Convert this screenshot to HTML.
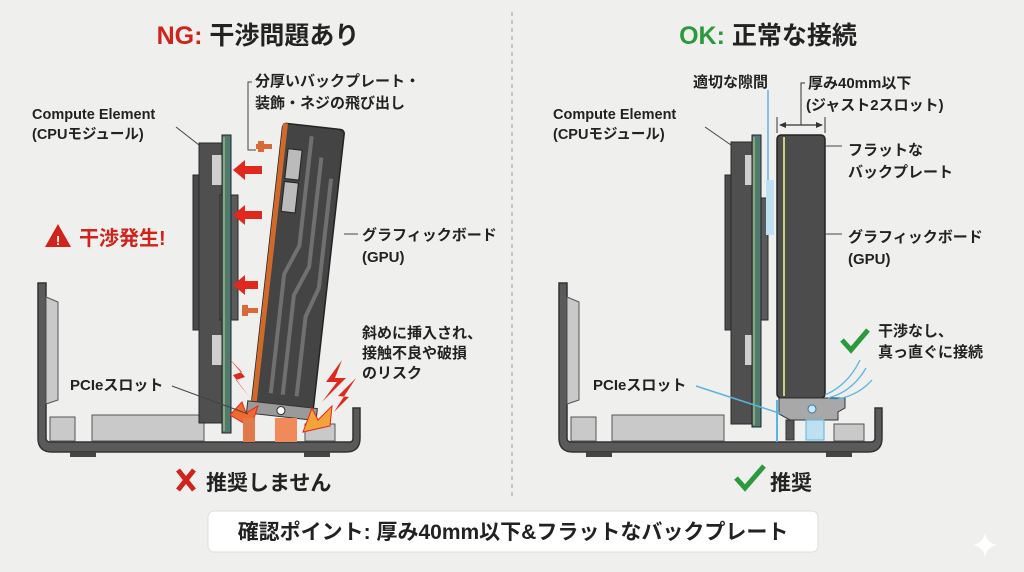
<!DOCTYPE html>
<html><head><meta charset="utf-8"><style>
html,body{margin:0;padding:0;background:#efefee;}
svg{display:block;}
text{font-family:"Liberation Sans","Noto Sans CJK JP",sans-serif;font-weight:bold;fill:#222;}
</style></head><body>
<svg width="1024" height="572" viewBox="0 0 1024 572" xmlns="http://www.w3.org/2000/svg">
<rect width="1024" height="572" fill="#efefee"/>
<line x1="512" y1="12" x2="512" y2="500" stroke="#aaa" stroke-width="1.2" stroke-dasharray="4 4"/>

<text x="258" y="44" font-size="25" text-anchor="middle"><tspan fill="#d0231b">NG:</tspan> 干渉問題あり</text>
<text x="768" y="44" font-size="25" text-anchor="middle"><tspan fill="#2b9a3c">OK:</tspan> 正常な接続</text>

<g>
 <path d="M38 283 L46 283 L46 438 Q46 442 50 442 L350 442 Q353 442 353 438 L353 408 L360 408 L360 438 Q360 452 346 452 L52 452 Q38 452 38 438 Z" fill="#5a5a5a" stroke="#333" stroke-width="1.5"/>
 <path d="M46 297 L58 302 L58 400 L46 404 Z" fill="#c9c9c9" stroke="#555"/>
 <rect x="50" y="417" width="25" height="24" fill="#c9c9c9" stroke="#555"/>
 <rect x="92" y="415" width="112" height="26" fill="#c9c9c9" stroke="#555"/>
 <rect x="305" y="424" width="30" height="17" fill="#c9c9c9" stroke="#555"/>
 <rect x="70" y="452" width="26" height="5" fill="#444"/>
 <rect x="304" y="452" width="26" height="5" fill="#444"/>
 <rect x="193" y="175" width="12" height="155" fill="#4a4a4a" stroke="#2a2a2a"/>
 <rect x="199" y="143" width="26" height="280" fill="#4f4f4f" stroke="#2a2a2a"/>
 <rect x="212" y="155" width="10" height="30" fill="#cfcfcf"/>
 <rect x="212" y="335" width="10" height="30" fill="#cfcfcf"/>
 <rect x="220" y="195" width="18" height="125" fill="#5a5a5a" stroke="#2a2a2a"/>
 <rect x="222" y="135" width="9" height="298" fill="#4f7a6e" stroke="#223"/>
 <line x1="224" y1="137" x2="224" y2="431" stroke="#c9d27a" stroke-width="1"/>
 <g transform="translate(283,123) rotate(6.4)">
  <rect x="0" y="0" width="62" height="282" rx="4" fill="#444" stroke="#222" stroke-width="1.5"/>
  <rect x="0" y="0" width="5" height="282" fill="#d06a2a"/>
  <rect x="8" y="25" width="14" height="30" fill="#bbb" stroke="#222"/>
  <rect x="8" y="58" width="14" height="30" fill="#bbb" stroke="#222"/>
  <path d="M30 10 L30 120 L18 150 L18 270 M42 30 L42 140 L30 170 L30 270 M54 50 L54 160 L44 190 L44 270" stroke="#707070" stroke-width="4" fill="none"/>
  <rect x="-4" y="280" width="70" height="12" fill="#9a9a9a" stroke="#333"/>
  <circle cx="30" cy="286" r="4" fill="#fff" stroke="#333"/>
 </g>
 <g fill="#e0281e">
  <path d="M262 166 L245 166 L245 160 L233 170 L245 180 L245 174 L262 174 Z"/>
  <path d="M262 211 L245 211 L245 205 L233 215 L245 225 L245 219 L262 219 Z"/>
  <path d="M258 281 L245 281 L245 275 L233 285 L245 295 L245 289 L258 289 Z"/>
 </g>
 <rect x="256" y="144" width="16" height="5" fill="#d86a3a"/><rect x="258" y="141" width="6" height="11" fill="#d86a3a"/>
 <rect x="244" y="308" width="14" height="5" fill="#d86a3a"/><rect x="242" y="305" width="6" height="11" fill="#d86a3a"/>
 <g fill="#e0281e">
  <path d="M226 355 L242 372 L233 375 L250 398 L236 380 L245 377 Z"/>
  <path d="M342 360 L326 382 L337 382 L322 402 L346 378 L335 378 Z"/>
  <path d="M356 378 L338 396 L349 397 L334 412 Z"/>
 </g>
 <path d="M230 415 L242 402 L246 413 L258 406 L251 427 L240 421 Z" fill="#f06a30" stroke="#e0281e"/>
 <path d="M303 432 L312 408 L318 420 L332 406 L330 426 Z" fill="#f3a33a" stroke="#e0281e"/>
 <rect x="243" y="418" width="12" height="24" fill="#e07a4a"/>
 <rect x="275" y="418" width="22" height="24" fill="#f08a5a"/>
 <text x="32" y="119" font-size="14.5">Compute Element</text>
 <text x="32" y="139" font-size="14.5">(CPUモジュール)</text>
 <line x1="176" y1="127" x2="199" y2="145" stroke="#444"/>
 <text x="255" y="86" font-size="15">分厚いバックプレート・</text>
 <text x="255" y="108" font-size="15">装飾・ネジの飛び出し</text>
 <polyline points="252,82 248,82 248,150 256,150" fill="none" stroke="#444"/>
 <path d="M45 247 L58 224 L71 247 Z" fill="#d0231b"/>
 <text x="58" y="245" font-size="13" text-anchor="middle" style="fill:#fff">!</text>
 <text x="79" y="245" font-size="20" style="fill:#d0231b">干渉発生!</text>
 <text x="362" y="240" font-size="15">グラフィックボード</text>
 <text x="362" y="262" font-size="15">(GPU)</text>
 <line x1="344" y1="234" x2="358" y2="234" stroke="#444"/>
 <text x="362" y="338" font-size="15">斜めに挿入され、</text>
 <text x="362" y="358" font-size="15">接触不良や破損</text>
 <text x="362" y="378" font-size="15">のリスク</text>
 <text x="70" y="390" font-size="15">PCIeスロット</text>
 <line x1="172" y1="386" x2="248" y2="414" stroke="#444"/>
 <path d="M178 470 L194 490 M194 470 L178 490" stroke="#d0231b" stroke-width="5"/>
 <text x="206" y="490" font-size="21">推奨しません</text>
</g>

<g>
 <path d="M559 283 L567 283 L567 438 Q567 442 571 442 L871 442 Q875 442 875 438 L875 408 L882 408 L882 438 Q882 452 868 452 L573 452 Q559 452 559 438 Z" fill="#5a5a5a" stroke="#333" stroke-width="1.5"/>
 <path d="M567 297 L579 302 L579 400 L567 404 Z" fill="#c9c9c9" stroke="#555"/>
 <rect x="571" y="417" width="25" height="24" fill="#c9c9c9" stroke="#555"/>
 <rect x="612" y="415" width="112" height="26" fill="#c9c9c9" stroke="#555"/>
 <rect x="834" y="424" width="30" height="17" fill="#c9c9c9" stroke="#555"/>
 <rect x="586" y="452" width="26" height="5" fill="#444"/>
 <rect x="826" y="452" width="26" height="5" fill="#444"/>
 <rect x="725" y="175" width="12" height="155" fill="#4a4a4a" stroke="#2a2a2a"/>
 <rect x="731" y="142" width="26" height="282" fill="#4f4f4f" stroke="#2a2a2a"/>
 <rect x="745" y="155" width="8" height="30" fill="#cfcfcf"/>
 <rect x="745" y="335" width="8" height="30" fill="#cfcfcf"/>
 <rect x="752" y="198" width="16" height="122" fill="#5a5a5a" stroke="#2a2a2a"/>
 <rect x="752" y="135" width="9" height="292" fill="#4f7a6e" stroke="#223"/>
 <line x1="754" y1="137" x2="754" y2="425" stroke="#c9d27a"/>
 <line x1="768" y1="90" x2="768" y2="180" stroke="#5ab4e0" stroke-width="1.5"/>
 <rect x="766" y="180" width="8" height="55" fill="#bfe0f0"/>
 <line x1="777" y1="400" x2="777" y2="442" stroke="#5ab4e0" stroke-width="2"/>
 <rect x="777" y="135" width="48" height="263" rx="4" fill="#4c4c4c" stroke="#222" stroke-width="1.5"/>
 <line x1="784" y1="137" x2="784" y2="396" stroke="#c9d27a" stroke-width="2"/>
 <path d="M779 398 L845 398 L845 408 L838 412 L838 420 L790 420 L779 414 Z" fill="#a8a8a8" stroke="#333"/>
 <circle cx="812" cy="409" r="4" fill="#cfe8f5" stroke="#2a7ab0"/>
 <rect x="786" y="420" width="8" height="20" fill="#555" stroke="#333"/>
 <rect x="806" y="420" width="18" height="20" fill="#bfe0f0" stroke="#5ab4e0"/>
 <path d="M825 395 Q848 385 860 360 M828 398 Q852 392 866 368 M830 400 Q856 398 872 380" stroke="#5ab4e0" fill="none" stroke-width="1.3"/>
 <line x1="777" y1="117" x2="777" y2="133" stroke="#333"/>
 <line x1="825" y1="117" x2="825" y2="133" stroke="#333"/>
 <line x1="780" y1="125" x2="822" y2="125" stroke="#333" stroke-width="1.3"/>
 <path d="M779 125 L786 122 L786 128 Z M823 125 L816 122 L816 128 Z" fill="#333"/>
 <polyline points="801,125 801,83 805,83" fill="none" stroke="#333"/>
 <text x="808" y="88" font-size="15">厚み40mm以下</text>
 <text x="806" y="110" font-size="15">(ジャスト2スロット)</text>
 <text x="693" y="87" font-size="15">適切な隙間</text>
 <text x="553" y="119" font-size="14.5">Compute Element</text>
 <text x="553" y="139" font-size="14.5">(CPUモジュール)</text>
 <line x1="705" y1="127" x2="731" y2="145" stroke="#444"/>
 <text x="848" y="155" font-size="15">フラットな</text>
 <text x="848" y="177" font-size="15">バックプレート</text>
 <line x1="826" y1="146" x2="842" y2="146" stroke="#444"/>
 <text x="848" y="242" font-size="15">グラフィックボード</text>
 <text x="848" y="264" font-size="15">(GPU)</text>
 <line x1="826" y1="234" x2="842" y2="234" stroke="#444"/>
 <path d="M842 340 L851 350 L868 330" stroke="#2b9a3c" stroke-width="5" fill="none"/>
 <text x="878" y="336" font-size="15">干渉なし、</text>
 <text x="878" y="357" font-size="15">真っ直ぐに接続</text>
 <text x="593" y="390" font-size="15">PCIeスロット</text>
 <line x1="696" y1="386" x2="782" y2="414" stroke="#5ab4e0" stroke-width="1.5"/>
 <path d="M736 478 L745 488 L764 466" stroke="#2b9a3c" stroke-width="5" fill="none"/>
 <text x="770" y="490" font-size="21">推奨</text>
</g>

<rect x="208" y="511" width="610" height="41" rx="6" fill="#fff" stroke="#ddd"/>
<text x="513" y="539" font-size="21" text-anchor="middle">確認ポイント: 厚み40mm以下&amp;フラットなバックプレート</text>
<path d="M985 533 Q987 543 997 545 Q987 547 985 557 Q983 547 973 545 Q983 543 985 533 Z" fill="#fff"/>
</svg>
</body></html>
